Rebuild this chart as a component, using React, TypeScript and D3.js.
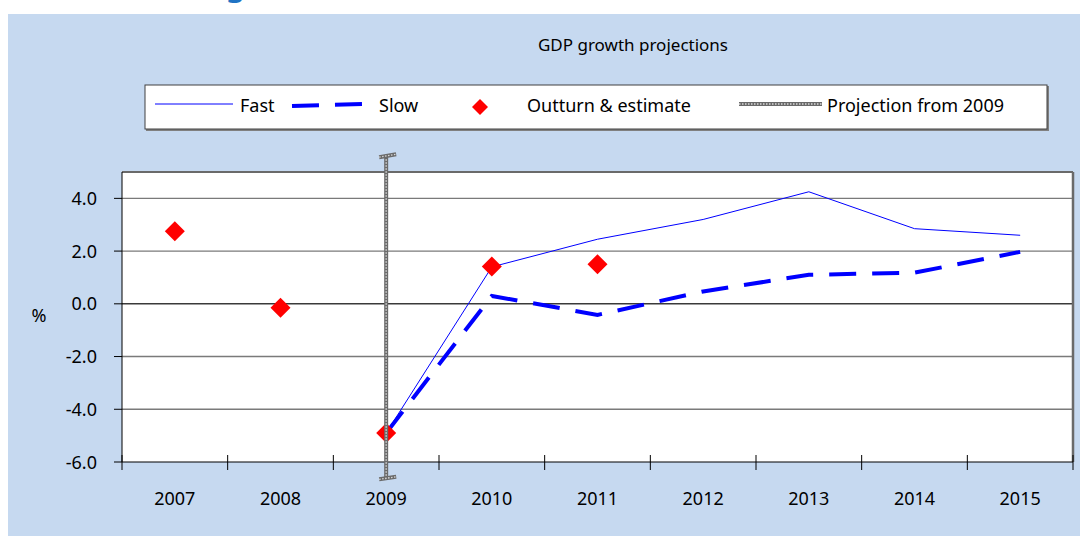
import React from "react";
import * as d3 from "d3";

const years = ["2007", "2008", "2009", "2010", "2011", "2012", "2013", "2014", "2015"];
const fastYears = ["2009", "2010", "2011", "2012", "2013", "2014", "2015"];
const fastValues = [-4.9, 1.4, 2.45, 3.2, 4.25, 2.85, 2.6];
const slowYears = ["2009", "2010", "2011", "2012", "2013", "2014", "2015"];
const slowValues = [-4.9, 0.3, -0.42, 0.47, 1.1, 1.18, 1.97];
const outturnYears = ["2007", "2008", "2009", "2010", "2011"];
const outturnValues = [2.75, -0.15, -4.9, 1.42, 1.5];
const yTicks = [-6, -4, -2, 0, 2, 4];
const projectionYear = "2009";
const projectionRange = [-6.6, 5.6];

const W = 1080;
const H = 536;
const FONT = "'Noto Sans', 'Open Sans', sans-serif";

export default function App() {
  const left = 122;
  const right = 1073;
  const top = 172;
  const bottom = 462;

  const x = d3.scaleBand<string>().domain(years).range([left, right]).paddingInner(0).paddingOuter(0);
  const cx = (yr: string) => (x(yr) as number) + x.bandwidth() / 2;
  const y = d3.scaleLinear().domain([-6, 5]).range([bottom, top]);

  const line = d3.line<[string, number]>().x((d) => cx(d[0])).y((d) => y(d[1]));
  const fastPath = line(fastYears.map((yr, i) => [yr, fastValues[i]] as [string, number])) || "";
  const slowPath = line(slowYears.map((yr, i) => [yr, slowValues[i]] as [string, number])) || "";

  const diamond = (px: number, py: number, r: number) =>
    `M${px},${py - r}L${px + r},${py}L${px},${py + r}L${px - r},${py}Z`;

  const px = cx(projectionYear);
  const pyTop = y(projectionRange[1]);
  const pyBot = y(projectionRange[0]);

  const boundaries = d3.range(years.length + 1).map((i) => left + i * x.bandwidth());

  const hatched = (x1: number, y1: number, x2: number, y2: number, key: string) => (
    <g key={key}>
      <line x1={x1} y1={y1} x2={x2} y2={y2} stroke="#6a6a6a" strokeWidth={4} />
      <line x1={x1} y1={y1} x2={x2} y2={y2} stroke="#d8d8d8" strokeWidth={1.4} strokeDasharray="1.5 1.5" />
    </g>
  );

  return (
    <svg width={W} height={H} style={{ position: "absolute", left: 0, top: 0 }} fontFamily={FONT}>
      <rect x={0} y={0} width={W} height={H} fill="#ffffff" />
      <text x={226} y={-4} fontSize={30} fill="#1f73c4" fontWeight="bold">g</text>
      <rect x={8} y={14} width={W - 8} height={H - 14} fill="#c6d9f0" />

      <text x={633} y={51} textAnchor="middle" fontSize={17} fill="#000">GDP growth projections</text>

      {/* legend */}
      <rect x={146} y={86} width={903} height={45} fill="#808080" />
      <rect x={145} y={85} width={902} height={44} fill="#ffffff" stroke="#404040" strokeWidth={1} />
      <line x1={155} y1={104} x2={233} y2={104} stroke="#0000ff" strokeWidth={1} />
      <text x={240} y={112} fontSize={18} fill="#000">Fast</text>
      <line x1={292} y1={106} x2={362} y2={104} stroke="#0000ff" strokeWidth={4} strokeDasharray="27 16" />
      <text x={379} y={112} fontSize={18} fill="#000">Slow</text>
      <path d={diamond(480, 107, 8)} fill="#ff0000" />
      <text x={527} y={112} fontSize={18} fill="#000">Outturn &amp; estimate</text>
      {hatched(739, 104, 822, 104, "lg")}
      <text x={827} y={112} fontSize={18} fill="#000">Projection from 2009</text>

      {/* plot area */}
      <rect x={left} y={top} width={right - left} height={bottom - top} fill="#ffffff" />
      {yTicks.filter((t) => t !== 0 && t !== -6).map((t) => (
        <line key={t} x1={left} x2={right} y1={y(t)} y2={y(t)} stroke="#7a7a7a" strokeWidth={1.4} />
      ))}
      <line x1={left} x2={right} y1={y(0)} y2={y(0)} stroke="#3a3a3a" strokeWidth={1.4} />
      <line x1={left} x2={right} y1={top} y2={top} stroke="#6a6a6a" strokeWidth={2} />
      <line x1={right} x2={right} y1={top} y2={bottom} stroke="#6a6a6a" strokeWidth={2.5} />

      {/* y axis */}
      <line x1={left} x2={left} y1={top} y2={bottom} stroke="#000" strokeWidth={1} />
      {yTicks.map((t) => (
        <g key={t}>
          <line x1={left - 8} x2={left} y1={y(t)} y2={y(t)} stroke="#000" strokeWidth={1} />
          <text x={97} y={y(t) + 6.5} textAnchor="end" fontSize={18} fill="#000">
            {t.toFixed(1)}
          </text>
        </g>
      ))}
      <text x={39} y={322} textAnchor="middle" fontSize={18} fill="#000">%</text>

      {/* x axis */}
      <line x1={left} x2={right} y1={bottom} y2={bottom} stroke="#000" strokeWidth={1.2} />
      {boundaries.map((b, i) => (
        <line key={i} x1={b} x2={b} y1={bottom - 7} y2={bottom + 8} stroke="#000" strokeWidth={1} />
      ))}
      {years.map((yr) => (
        <text key={yr} x={cx(yr)} y={505} textAnchor="middle" fontSize={18} fill="#000">
          {yr}
        </text>
      ))}

      {/* series */}
      <path d={fastPath} fill="none" stroke="#0000ff" strokeWidth={1} />
      <path d={slowPath} fill="none" stroke="#0000ff" strokeWidth={4} strokeDasharray="27 16" />
      {outturnYears.map((yr, i) => (
        <path key={yr} d={diamond(cx(yr), y(outturnValues[i]), 10)} fill="#ff0000" />
      ))}

      {/* projection marker */}
      {hatched(px, pyTop, px, pyBot, "pv")}
      {hatched(px - 7, pyTop + 1, px + 10, pyTop - 2, "pt")}
      {hatched(px - 7, pyBot + 1.5, px + 10, pyBot - 1, "pb")}
    </svg>
  );
}
